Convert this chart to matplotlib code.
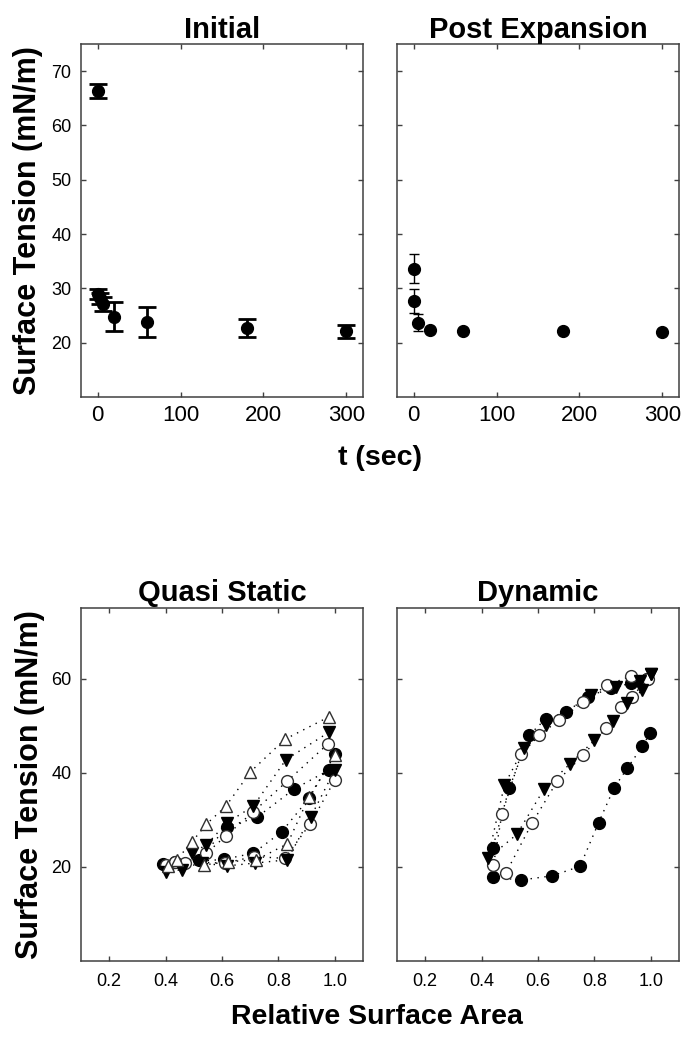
import numpy as np
import matplotlib
matplotlib.use("Agg")
import matplotlib.pyplot as plt

plt.rcParams['font.family'] = ['Liberation Sans', 'DejaVu Sans']

# --- top row: surface tension vs time ---
init_t = [0, 1, 3, 6, 20, 60, 180, 300]
init_st = [66.4, 29.0, 28.2, 27.2, 24.8, 23.8, 22.7, 22.1]
init_err = [1.3, 0.9, 1.0, 1.3, 2.7, 2.7, 1.7, 1.2]

post_t = [0, 1, 5, 20, 60, 180, 300]
post_st = [33.6, 27.6, 23.7, 22.3, 22.2, 22.2, 21.9]
post_err = [2.7, 2.2, 1.5, 0, 0, 0, 0]

time_ticks = [0, 100, 200, 300]
st_ticks_top = [20, 30, 40, 50, 60, 70]

# --- bottom row: surface tension vs relative area (loops) ---
qs_tri_open_x = [0.98, 0.823, 0.701, 0.614, 0.545, 0.492, 0.439, 0.409, 0.536, 0.622, 0.722, 0.832, 0.909, 1.0]
qs_tri_open_y = [51.9, 47.1, 40.2, 32.9, 29.1, 25.2, 21.5, 20.2, 20.4, 21.1, 21.5, 24.9, 34.9, 43.7]
qs_tri_fill_x = [0.979, 0.827, 0.711, 0.616, 0.545, 0.492, 0.459, 0.40, 0.53, 0.616, 0.716, 0.831, 0.914, 1.0]
qs_tri_fill_y = [48.6, 42.8, 32.9, 29.3, 24.7, 22.9, 19.4, 19.0, 20.8, 20.2, 20.8, 21.5, 30.5, 40.6]
qs_circ_open_x = [0.977, 0.831, 0.711, 0.614, 0.545, 0.468, 0.40, 0.435, 0.61, 0.715, 0.823, 0.912, 1.0]
qs_circ_open_y = [46.2, 38.2, 31.7, 26.6, 22.9, 20.9, 20.3, 21.1, 20.8, 22.2, 21.8, 29.1, 38.4]
qs_circ_fill_x = [0.98, 0.855, 0.723, 0.616, 0.52, 0.435, 0.39, 0.607, 0.711, 0.811, 0.909, 1.0]
qs_circ_fill_y = [40.6, 36.5, 30.5, 28.5, 21.5, 21.0, 20.6, 21.6, 22.9, 27.4, 34.6, 43.9]

dy_circ_fill_x = [0.998, 0.970, 0.917, 0.870, 0.815, 0.749, 0.650, 0.540, 0.442, 0.439, 0.498, 0.569, 0.628, 0.701, 0.776, 0.860, 0.930, 0.985]
dy_circ_fill_y = [48.5, 45.6, 41.0, 36.8, 29.4, 20.1, 18.1, 17.2, 17.8, 24.0, 36.7, 48.0, 51.5, 52.9, 56.1, 58.0, 59.0, 60.0]
dy_circ_open_x = [0.985, 0.935, 0.896, 0.841, 0.760, 0.669, 0.579, 0.487, 0.442, 0.472, 0.540, 0.605, 0.675, 0.761, 0.844, 0.929, 0.99]
dy_circ_open_y = [60.0, 56.1, 54.0, 49.4, 43.7, 38.3, 29.3, 18.8, 20.4, 31.2, 43.9, 48.0, 51.2, 55.0, 58.6, 60.5, 60.0]
dy_tri_fill_x = [1.0, 0.970, 0.915, 0.866, 0.800, 0.712, 0.622, 0.525, 0.422, 0.481, 0.549, 0.628, 0.788, 0.876, 0.96, 1.0]
dy_tri_fill_y = [60.9, 57.5, 54.8, 50.9, 46.9, 41.8, 36.6, 26.9, 21.8, 37.4, 45.2, 50.1, 56.5, 58.2, 59.5, 60.9]

area_ticks = [0.2, 0.4, 0.6, 0.8, 1.0]
st_ticks_bot = [20, 40, 60]

spine_col = '#404040'
edge_col = '#303030'
ms = 8.5


def style_axes(ax, xsize, ysize, show_y=True, xpad=5, ypad=7):
    for s in ax.spines.values():
        s.set_color(spine_col)
        s.set_linewidth(1.1)
    ax.tick_params(direction='in', top=True, right=True, length=3.5, width=1,
                   color=spine_col, labelleft=show_y)
    ax.tick_params(axis='x', labelsize=xsize, pad=xpad)
    ax.tick_params(axis='y', labelsize=ysize, pad=ypad)


fig = plt.figure(figsize=(6.84, 10.37), dpi=100)
W, H = 684, 1037


def add_ax(x0, y0, x1, y1):
    return fig.add_axes([x0 / W, 1 - y1 / H, (x1 - x0) / W, (y1 - y0) / H])


ax1 = add_ax(81, 44, 363, 397)
ax2 = add_ax(397, 44, 679, 397)
ax3 = add_ax(81, 608, 363, 961)
ax4 = add_ax(397, 608, 679, 961)

# top panels
ax1.errorbar(init_t, init_st, yerr=init_err, fmt='o', color='k', ms=ms,
             elinewidth=2, capsize=6.8, capthick=2)
ax2.errorbar(post_t, post_st, yerr=post_err, fmt='o', color='k', ms=ms,
             elinewidth=1, capsize=3.5, capthick=1)

for ax, title, show_y in [(ax1, 'Initial', True), (ax2, 'Post Expansion', False)]:
    ax.set_xlim(-20, 320)
    ax.set_ylim(10, 75)
    ax.set_xticks(time_ticks)
    ax.set_yticks(st_ticks_top)
    style_axes(ax, 16, 13, show_y, xpad=6)
    ax.set_title(title, fontsize=21, fontweight='bold', pad=4)

# bottom panels
dots = (0, (1, 4))
qs_series = [
    (qs_circ_fill_x, qs_circ_fill_y, 'o', 'k'),
    (qs_circ_open_x, qs_circ_open_y, 'o', 'white'),
    (qs_tri_fill_x, qs_tri_fill_y, 'v', 'k'),
    (qs_tri_open_x, qs_tri_open_y, '^', 'white'),
]
dy_series = [
    (dy_circ_fill_x, dy_circ_fill_y, 'o', 'k'),
    (dy_circ_open_x, dy_circ_open_y, 'o', 'white'),
    (dy_tri_fill_x, dy_tri_fill_y, 'v', 'k'),
]

for ax, series in [(ax3, qs_series), (ax4, dy_series)]:
    for x, y, m, fc in series:
        ax.plot(x, y, linestyle=dots, color='k', lw=1, zorder=2)
    for x, y, m, fc in series:
        ax.plot(x, y, linestyle='none', marker=m, ms=ms, mfc=fc,
                mec='k' if fc == 'k' else edge_col, mew=1, zorder=3)

for ax, title, show_y in [(ax3, 'Quasi Static', True), (ax4, 'Dynamic', False)]:
    ax.set_xlim(0.1, 1.1)
    ax.set_ylim(0, 75)
    ax.set_xticks(area_ticks)
    ax.set_xticklabels(['%.1f' % v for v in area_ticks])
    ax.set_yticks(st_ticks_bot)
    style_axes(ax, 13, 13, show_y, xpad=9)
    ax.set_title(title, fontsize=21, fontweight='bold', pad=5)

# shared labels
fig.text(28 / W, 1 - 221 / H, 'Surface Tension (mN/m)', rotation=90,
         fontsize=22, fontweight='bold', ha='center', va='center')
fig.text(30 / W, 1 - 785 / H, 'Surface Tension (mN/m)', rotation=90,
         fontsize=22, fontweight='bold', ha='center', va='center')
fig.text(380 / W, 1 - 458 / H, 't (sec)', fontsize=20.5, fontweight='bold',
         ha='center', va='center')
fig.text(377 / W, 1 - 1017 / H, 'Relative Surface Area', fontsize=20.5,
         fontweight='bold', ha='center', va='center')

fig.savefig('out.png', dpi=100)
